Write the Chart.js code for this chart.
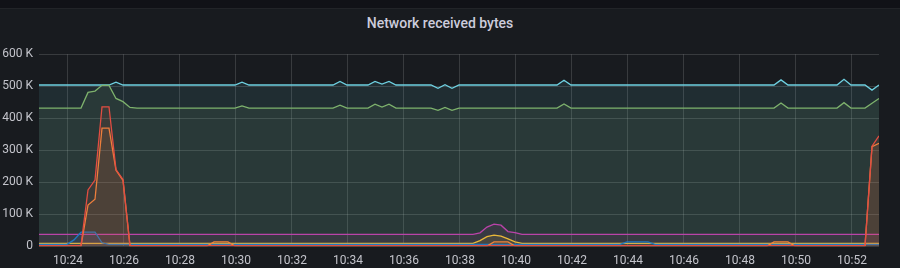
<!DOCTYPE html>
<html>
<head>
<meta charset="utf-8">
<script src="https://cdn.jsdelivr.net/npm/chart.js@4/dist/chart.umd.min.js"></script>
<style>
  html, body { margin: 0; padding: 0; background: #181b1f; }
  .top-bar { position: absolute; left: 0; top: 0; width: 900px; height: 8px; background: #111217; border-bottom: 1px solid #222428; }
  .panel-title { position: absolute; left: 0; top: 14px; width: 880px; text-align: center;
    font: 500 14px Roboto, sans-serif; line-height: 18px; color: #ccccdc; }
  canvas { position: absolute; left: 0; top: 0; }
</style>
</head>
<body>
<div class="top-bar"></div>
<div class="panel-title">Network received bytes</div>
<canvas id="netChart" width="900" height="268"></canvas>
<script>
// janela de tempo do painel
const startTime = "10:22:58";
const endTime = "10:52:58";
const xTickLabels = ["10:24", "10:26", "10:28", "10:30", "10:32", "10:34", "10:36", "10:38",
  "10:40", "10:42", "10:44", "10:46", "10:48", "10:50", "10:52"];

// valores em K (bytes/1000), pares [hora, valor]
const seriesCyan = [
  ["10:22:58", 504], ["10:25:28", 504], ["10:25:43", 513], ["10:25:58", 504],
  ["10:29:58", 504], ["10:30:13", 513], ["10:30:28", 504],
  ["10:33:28", 504], ["10:33:43", 515], ["10:33:58", 504],
  ["10:34:43", 504], ["10:34:58", 515], ["10:35:13", 507], ["10:35:28", 515], ["10:35:43", 504],
  ["10:36:58", 504], ["10:37:13", 494], ["10:37:28", 505], ["10:37:43", 494], ["10:37:58", 504],
  ["10:41:28", 504], ["10:41:43", 519], ["10:41:58", 504],
  ["10:49:13", 504], ["10:49:28", 520], ["10:49:43", 504],
  ["10:51:28", 504], ["10:51:43", 522], ["10:51:58", 504],
  ["10:52:28", 504], ["10:52:43", 488], ["10:52:58", 504]
];

const seriesGreen = [
  ["10:22:58", 432], ["10:24:28", 432], ["10:24:43", 481], ["10:24:58", 485],
  ["10:25:13", 503], ["10:25:28", 503], ["10:25:43", 462], ["10:25:58", 452],
  ["10:26:13", 434], ["10:26:28", 432],
  ["10:29:58", 432], ["10:30:13", 439], ["10:30:28", 432],
  ["10:33:28", 432], ["10:33:43", 441], ["10:33:58", 432],
  ["10:34:43", 432], ["10:34:58", 444], ["10:35:13", 435], ["10:35:28", 444], ["10:35:43", 432],
  ["10:36:58", 432], ["10:37:13", 425], ["10:37:28", 434], ["10:37:43", 425], ["10:37:58", 432],
  ["10:41:28", 432], ["10:41:43", 445], ["10:41:58", 432],
  ["10:49:13", 432], ["10:49:28", 448], ["10:49:43", 432],
  ["10:51:28", 432], ["10:51:43", 449], ["10:51:58", 432],
  ["10:52:28", 432], ["10:52:43", 447], ["10:52:58", 462]
];

const seriesPurple = [
  ["10:22:58", 37], ["10:38:28", 37], ["10:38:43", 42], ["10:38:58", 60],
  ["10:39:13", 69], ["10:39:28", 66], ["10:39:43", 46], ["10:39:58", 43],
  ["10:40:13", 37], ["10:52:58", 37]
];

const seriesYellow = [
  ["10:22:58", 9], ["10:38:28", 9], ["10:38:43", 18], ["10:38:58", 30],
  ["10:39:13", 35], ["10:39:28", 32], ["10:39:43", 23], ["10:39:58", 14],
  ["10:40:13", 9], ["10:52:58", 9]
];

const seriesBlue = [
  ["10:22:58", 6], ["10:23:58", 6], ["10:24:13", 20], ["10:24:28", 44],
  ["10:24:58", 44], ["10:25:13", 11], ["10:25:28", 6],
  ["10:43:43", 6], ["10:43:58", 14], ["10:44:43", 14], ["10:44:58", 6],
  ["10:52:58", 6]
];

const seriesOrange = [
  ["10:22:58", 1], ["10:24:28", 1], ["10:24:43", 129], ["10:24:58", 147],
  ["10:25:13", 369], ["10:25:28", 369], ["10:25:43", 238], ["10:25:58", 206],
  ["10:26:13", 1],
  ["10:28:58", 1], ["10:29:13", 14], ["10:29:43", 14], ["10:29:58", 1],
  ["10:38:58", 1], ["10:39:13", 14], ["10:39:43", 14], ["10:39:58", 1],
  ["10:48:58", 1], ["10:49:13", 14], ["10:49:43", 14], ["10:49:58", 1],
  ["10:52:28", 1], ["10:52:43", 311], ["10:52:58", 322]
];

const seriesRed = [
  ["10:22:58", 2], ["10:24:28", 2], ["10:24:43", 176], ["10:24:58", 207],
  ["10:25:13", 436], ["10:25:28", 436], ["10:25:43", 240], ["10:25:58", 209],
  ["10:26:13", 2], ["10:52:28", 2], ["10:52:43", 313], ["10:52:58", 345]
];

// "10:24:13" -> minutos depois das 10:00
function toMinutes(hora) {
  const partes = hora.split(":").map(Number);
  return (partes[0] - 10) * 60 + partes[1] + (partes[2] || 0) / 60;
}

function montarSerie(pontos, cor) {
  return {
    data: pontos.map((p) => ({ x: toMinutes(p[0]), y: p[1] })),
    borderColor: cor,
    backgroundColor: cor + "1a",
    borderWidth: 1.3,
    pointRadius: 0,
    tension: 0,
    fill: "origin",
  };
}

const gridColor = "rgba(255, 255, 255, 0.14)";
const textColor = "#c3c4cb";
const tickFont = { family: "Roboto", size: 12 };

const ctx = document.getElementById("netChart").getContext("2d");
const netChart = new Chart(ctx, {
  type: "line",
  data: {
    datasets: [
      montarSerie(seriesRed, "#E24D42"),
      montarSerie(seriesOrange, "#EF843C"),
      montarSerie(seriesBlue, "#1F78C1"),
      montarSerie(seriesYellow, "#EAB839"),
      montarSerie(seriesPurple, "#BA43A9"),
      montarSerie(seriesGreen, "#7EB26D"),
      montarSerie(seriesCyan, "#6ED0E0"),
    ],
  },
  options: {
    responsive: false,
    animation: false,
    devicePixelRatio: 1,
    layout: { padding: { left: 0, right: 21, top: 54.3, bottom: 2 } },
    plugins: {
      legend: { display: false },
      tooltip: { enabled: false },
      title: { display: false },
    },
    scales: {
      x: {
        type: "linear",
        min: toMinutes(startTime),
        max: toMinutes(endTime),
        afterBuildTicks: (scale) => {
          scale.ticks = xTickLabels.map((l) => ({ value: toMinutes(l) }));
        },
        afterFit: (scale) => { scale.height = 19.7; },
        ticks: {
          autoSkip: false,
          maxRotation: 0,
          padding: 7,
          color: textColor,
          font: tickFont,
          callback: (value, index) => xTickLabels[index],
        },
        grid: { color: gridColor, drawTicks: false },
        border: { display: false },
      },
      y: {
        min: 0,
        max: 600,
        afterFit: (scale) => { scale.width = 39; },
        ticks: {
          stepSize: 100,
          padding: 6,
          color: textColor,
          font: tickFont,
          callback: (v) => (v === 0 ? "0" : v + " K"),
        },
        grid: { color: gridColor, drawTicks: false },
        border: { display: false },
      },
    },
  },
});
</script>
</body>
</html>
